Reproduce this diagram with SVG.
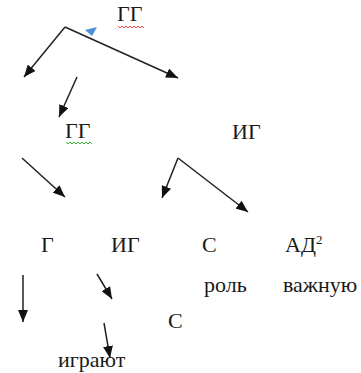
<svg xmlns="http://www.w3.org/2000/svg" width="361" height="373" viewBox="0 0 361 373">
<style>
.t{font-family:"Liberation Serif","Times New Roman",serif;font-size:22px;fill:#1a1a1a}
.c{stroke:#222;stroke-width:1.5;fill:none;marker-end:url(#ah)}
</style>
<defs>
<marker id="ah" viewBox="0 0 12 10" refX="12" refY="5" markerWidth="12" markerHeight="10" orient="auto" markerUnits="userSpaceOnUse">
<path d="M0,0 L12,5 L0,10 z" fill="#111"/>
</marker>
</defs>
<rect width="361" height="373" fill="#fff"/>
<g id="connectors">
<path class="c" d="M65,27 L24,77"/>
<path class="c" d="M65,27 L178,78"/>
<path class="c" d="M77,77 L59,117"/>
<path class="c" d="M22,158 L65,197"/>
<path class="c" d="M178,158 L162,198"/>
<path class="c" d="M178,158 L248,212"/>
<path class="c" d="M23,275 L23,322"/>
<path class="c" d="M97,274 L112,299"/>
<path class="c" d="M104,323 L110,358"/>
</g>
<polygon points="85,30 97,27 92,36" fill="#4a90d9"/>
<g id="n-gg1"><text class="t" x="117" y="21">ГГ</text>
<polyline points="118,26 120,28 122,26 124,28 126,26 128,28 130,26 132,28 134,26 136,28 138,26 140,28 142,26 144,28" fill="none" stroke="#e33" stroke-width="0.9"/></g>
<g id="n-gg2"><text class="t" x="65" y="138">ГГ</text>
<polyline points="66,142 68,144 70,142 72,144 74,142 76,144 78,142 80,144 82,142 84,144 86,142 88,144 90,142 92,144" fill="none" stroke="#2a2" stroke-width="0.9"/></g>
<g id="n-ig1"><text class="t" x="232" y="139">ИГ</text></g>
<g id="n-g"><text class="t" x="41" y="252">Г</text></g>
<g id="n-ig2"><text class="t" x="111" y="252">ИГ</text></g>
<g id="n-s1"><text class="t" x="202" y="252">С</text></g>
<g id="n-ad"><text class="t" x="285" y="252">АД<tspan font-size="13" dy="-8">2</tspan></text></g>
<g id="n-rol"><text class="t" x="204" y="292">роль</text></g>
<g id="n-vazh"><text class="t" x="283" y="292">важную</text></g>
<g id="n-s2"><text class="t" x="168" y="328">С</text></g>
<g id="n-igr"><text class="t" x="58" y="367">играют</text></g>
</svg>
